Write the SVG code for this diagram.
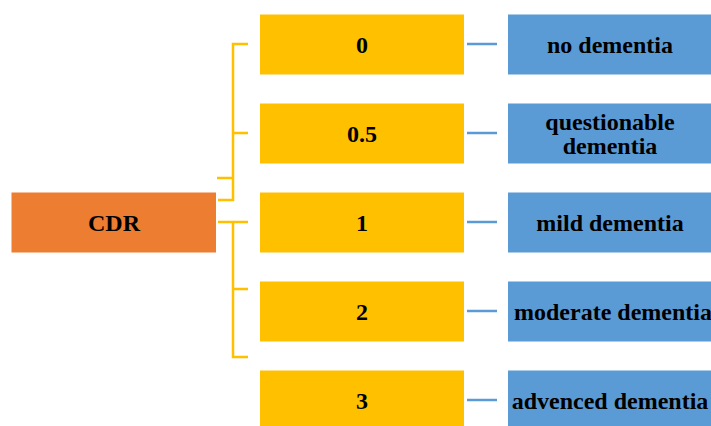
<svg xmlns="http://www.w3.org/2000/svg" width="711" height="426" viewBox="0 0 711 426">
<style>
.t{font-family:"Liberation Serif","Times New Roman",serif;font-weight:bold;font-size:24px;fill:#000;text-anchor:middle}
.y{fill:#FFC000}
.b{fill:#5B9BD5}
.br{stroke:#FFC000;stroke-width:2.5;fill:none}
.d{stroke:#5B9BD5;stroke-width:2.5;fill:none}
</style>
<rect width="711" height="426" fill="#fff"/>
<g id="connectors">
<path class="br" d="M248 44H233V200H218M217 178H233M233 133H248"/>
<path class="br" d="M218 222H233V357H248M233 289H248M233 222H248"/>
<path class="d" d="M467 44H497M467 133H497M467 222H497M467 311H497M467 400H497"/>
</g>
<g id="cdr"><rect x="11.5" y="192.5" width="204.5" height="60" fill="#ED7D31"/><text class="t" x="114" y="230.5">CDR</text></g>
<g id="s0"><rect class="y" x="260" y="14.5" width="204" height="60"/><text class="t" x="362" y="52.5">0</text></g>
<g id="s05"><rect class="y" x="260" y="103.5" width="204" height="60"/><text class="t" x="362" y="141.5">0.5</text></g>
<g id="s1"><rect class="y" x="260" y="192.5" width="204" height="60"/><text class="t" x="362" y="230.5">1</text></g>
<g id="s2"><rect class="y" x="260" y="281.5" width="204" height="60"/><text class="t" x="362" y="319.5">2</text></g>
<g id="s3"><rect class="y" x="260" y="370.5" width="204" height="60"/><text class="t" x="362" y="408.5">3</text></g>
<g id="l0"><rect class="b" x="508" y="14.5" width="203" height="60"/><text class="t" x="610" y="52.5">no dementia</text></g>
<g id="l05"><rect class="b" x="508" y="103.5" width="203" height="60"/><text class="t" x="610" y="129.5">questionable</text><text class="t" x="610" y="153.5">dementia</text></g>
<g id="l1"><rect class="b" x="508" y="192.5" width="203" height="60"/><text class="t" x="610" y="230.5">mild dementia</text></g>
<g id="l2"><rect class="b" x="508" y="281.5" width="203" height="60"/><text class="t" x="613" y="319.5">moderate dementia</text></g>
<g id="l3"><rect class="b" x="508" y="370.5" width="203" height="60"/><text class="t" x="610" y="408.5">advenced dementia</text></g>
</svg>
